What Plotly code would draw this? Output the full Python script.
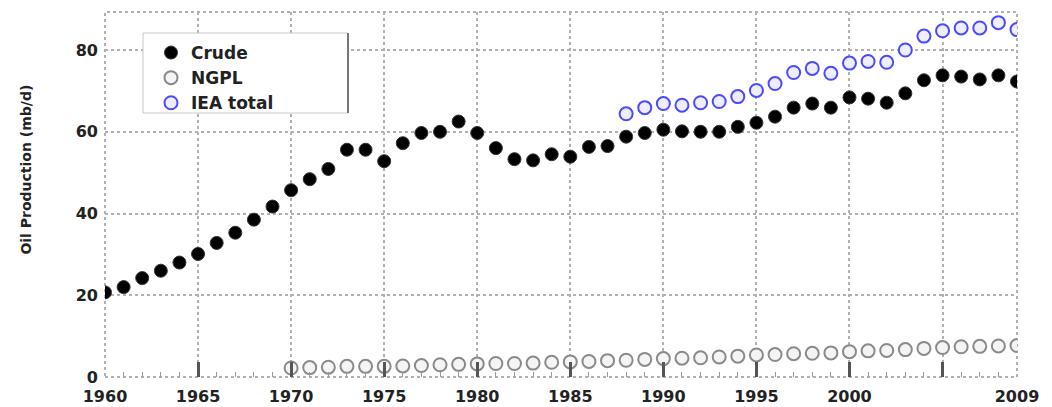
import plotly.graph_objects as go

years_crude = list(range(1960, 2010))
crude = [20.7, 22.0, 24.2, 26.0, 28.0, 30.1, 32.8, 35.3, 38.5, 41.7,
         45.7, 48.4, 50.9, 55.6, 55.6, 52.8, 57.2, 59.7, 60.0, 62.5,
         59.7, 56.0, 53.3, 53.0, 54.5, 53.9, 56.3, 56.5, 58.8, 59.7,
         60.5, 60.1, 60.0, 60.0, 61.2, 62.2, 63.7, 65.9, 66.9, 65.9,
         68.4, 68.1, 67.1, 69.4, 72.6, 73.8, 73.5, 72.8, 73.8, 72.3]

years_ngpl = list(range(1970, 2010))
ngpl = [2.2, 2.3, 2.4, 2.6, 2.6, 2.6, 2.7, 2.8, 3.0, 3.1,
        3.2, 3.3, 3.3, 3.4, 3.6, 3.7, 3.8, 4.0, 4.1, 4.3,
        4.5, 4.6, 4.7, 4.9, 5.1, 5.4, 5.5, 5.7, 5.8, 5.9,
        6.2, 6.4, 6.5, 6.7, 7.0, 7.2, 7.4, 7.5, 7.6, 7.7]

years_iea = list(range(1988, 2010))
iea_total = [64.4, 65.9, 66.9, 66.5, 67.1, 67.4, 68.6, 70.1, 71.8, 74.5,
             75.5, 74.3, 76.8, 77.2, 77.0, 80.0, 83.4, 84.7, 85.4, 85.4,
             86.7, 85.0]

x_tickvals = [1960, 1965, 1970, 1975, 1980, 1985, 1990, 1995, 2000, 2005, 2009]
x_ticktext = ["1960", "1965", "1970", "1975", "1980", "1985", "1990", "1995", "2000", "", "2009"]
y_tickvals = [0, 20, 40, 60, 80]
y_ticktext = ["0", "20", "40", "60", "80"]

FONT = dict(family="DejaVu Sans", size=16, color="#222", weight="bold")

fig = go.Figure()
fig.add_trace(go.Scatter(
    x=years_crude, y=crude, mode="markers", name="Crude",
    marker=dict(symbol="circle", size=13, color="#000000",
                line=dict(color="#333333", width=1))))
fig.add_trace(go.Scatter(
    x=years_ngpl, y=ngpl, mode="markers", name="NGPL",
    marker=dict(symbol="circle", size=13, color="#f4f4f4",
                line=dict(color="#8a8a8a", width=2))))
fig.add_trace(go.Scatter(
    x=years_iea, y=iea_total, mode="markers", name="IEA total",
    marker=dict(symbol="circle", size=13, color="#eeeeff",
                line=dict(color="#4a4aff", width=2))))

PW = 1052 - 105 - 35
PH = 407 - 12 - 30
lx0, lx1, ly0, ly1 = 143, 348, 33, 113  # legend box in pixels

fig.update_layout(
    width=1052, height=407,
    margin=dict(l=105, r=35, t=12, b=30, autoexpand=False),
    paper_bgcolor="white", plot_bgcolor="white",
    font=FONT,
    showlegend=True,
    legend=dict(x=(lx0 - 105 + 8) / PW, y=(377 - ly0 - 2) / PH, xanchor="left", yanchor="top",
                bgcolor="rgba(0,0,0,0)", borderwidth=0,
                font=dict(family="DejaVu Sans", size=17, color="#222", weight="bold"),
                tracegroupgap=0, itemwidth=30),
    xaxis=dict(range=[1960, 2009], tickmode="array", tickvals=x_tickvals, ticktext=x_ticktext,
               showgrid=True, gridcolor="#b0b0b0", griddash="dot", gridwidth=2,
               ticks="inside", ticklen=15, tickwidth=3, tickcolor="#555555",
               ticklabelstandoff=8,
               minor=dict(ticks="inside", dtick=1, ticklen=5, tickwidth=1, tickcolor="#999999",
                          showgrid=False),
               zeroline=False, showline=False, tickfont=FONT),
    yaxis=dict(range=[0, 89.3], tickmode="array", tickvals=y_tickvals, ticktext=y_ticktext,
               showgrid=True, gridcolor="#b0b0b0", griddash="dot", gridwidth=1.5,
               ticks="", ticklabelstandoff=6, zeroline=False, showline=False, tickfont=FONT),
    shapes=[
        dict(type="rect", xref="paper", yref="paper", x0=0, y0=0, x1=1, y1=1,
             line=dict(color="#b0b0b0", width=2, dash="dot"), layer="below"),
        dict(type="rect", xref="paper", yref="paper",
             x0=(lx0 - 105) / PW, x1=(lx1 - 105) / PW,
             y0=(377 - ly1) / PH, y1=(377 - ly0) / PH,
             fillcolor="white", line=dict(color="#c8c8c8", width=1), layer="above"),
        dict(type="line", xref="paper", yref="paper",
             x0=(lx1 - 105) / PW, x1=(lx1 - 105) / PW,
             y0=(377 - ly1) / PH, y1=(377 - ly0) / PH,
             line=dict(color="#777777", width=2), layer="above"),
    ],
    annotations=[dict(text="Oil Production (mb/d)", xref="paper", yref="paper",
                      x=-0.097, y=0.567, textangle=-90, showarrow=False,
                      font=dict(family="DejaVu Sans", size=14, color="#222", weight="bold"))],
)

fig.write_html("out.html", config={"displayModeBar": False},
               post_script="document.body.style.margin='0';")
